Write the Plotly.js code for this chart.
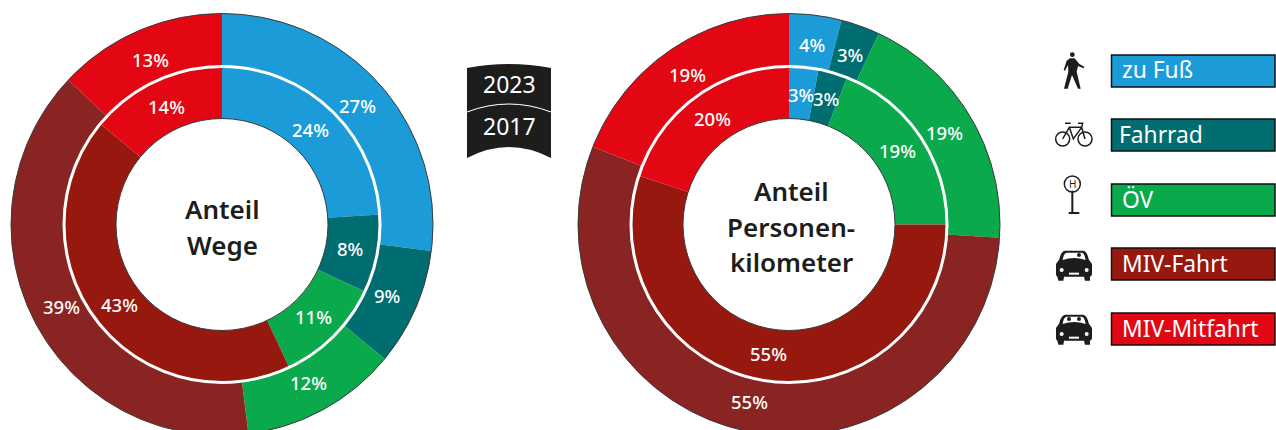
<!DOCTYPE html>
<html><head><meta charset="utf-8">
<script src="https://cdn.plot.ly/plotly-3.0.1.min.js"></script>
<style>html,body{margin:0;padding:0;overflow:hidden;background:#fff}#c{width:1276px;height:440px}</style>
</head><body><div id="c"></div>
<script>
const categories = ["zu Fuß","Fahrrad","ÖV","MIV-Fahrt","MIV-Mitfahrt"];
const wege2023 = [27,9,12,39,13];
const wege2017 = [24,8,11,43,14];
const pkm2023 = [4,3,19,55,19];
const pkm2017 = [3,3,19,55,20];
const colors2017 = ["#1b9cd9","#006d70","#09a94c","#97180f","#e30613"];
const colors2023 = ["#1b9cd9","#006d70","#09a94c","#8a2423","#e30613"];
const years = ["2023","2017"];

const W=1276,H=440,FONT='"Noto Sans",sans-serif';
const RO=211,RM=158,RI=106,CY=224.5;
const LX=222,RX=789;
const px=x=>x/W, py=y=>1-y/H;
function dom(cx,r){return {x:[px(cx-r),px(cx+r)],y:[py(CY+r),py(CY-r)]};}
function ring(vals,cols,cx,r,hole){return {type:'pie',values:vals,labels:categories,sort:false,direction:'clockwise',rotation:0,
  hole:hole,domain:dom(cx,r),marker:{colors:cols,line:{width:0}},textinfo:'none',hoverinfo:'skip',showlegend:false};}
const data=[ring(wege2023,colors2023,LX,RO,RM/RO),ring(wege2017,colors2017,LX,RM,RI/RM),
            ring(pkm2023,colors2023,RX,RO,RM/RO),ring(pkm2017,colors2017,RX,RM,RI/RM)];

const ann=[],shapes=[];
function txt(t,x,y,size,weight,color,anchor){ann.push({text:t,x:px(x),y:py(y),xref:'paper',yref:'paper',showarrow:false,
  xanchor:anchor||'center',yanchor:'middle',font:{family:FONT,size:size,weight:weight||400,color:color||'#fff'}});}
function pct(vals,cx,r){let c=0;vals.forEach(v=>{const a=(c+v/2)/100*2*Math.PI;c+=v;
  txt(v+'%',cx+r*Math.sin(a),CY-r*Math.cos(a),18.5,500);});}
pct(wege2023,LX,180);pct(wege2017,LX,130);pct(pkm2023,RX,181);pct(pkm2017,RX,131);

function circ(cx,cy,r,line,w,fill){shapes.push({type:'circle',xref:'paper',yref:'paper',x0:px(cx-r),x1:px(cx+r),y0:py(cy+r),y1:py(cy-r),
  line:{color:line||'rgba(0,0,0,0)',width:w||0},fillcolor:fill||'rgba(0,0,0,0)',layer:'above'});}
[LX,RX].forEach(cx=>{circ(cx,CY,RO,'#3a3a38',1);circ(cx,CY,RI,'#3a3a38',1);circ(cx,CY,RM,'#fff',3);});

// path given in local units, mapped to page pixels and then to paper fractions
function path(d,ox,oy,s,fill,line,w){
  let i=0;
  const out=d.replace(/-?\d+(\.\d+)?/g,m=>{const v=+m;const r=(i%2===0)?px(ox+v*s):py(oy+v*s);i++;return r.toFixed(6);});
  shapes.push({type:'path',xref:'paper',yref:'paper',path:out,fillcolor:fill||'rgba(0,0,0,0)',line:{color:line||'rgba(0,0,0,0)',width:w||0},layer:'above'});
}

// year badge
const K='#1d1d1b';
path('M467 68 Q509 60 551 68 L551 112 Q509 96 467 112 Z',0,0,1,K);
path('M467 112 Q509 96 551 112 L551 158 Q509 136 467 158 Z',0,0,1,K);
path('M467 112 Q509 96 551 112',0,0,1,null,'#fff',1);
txt(years[0],509,84.5,23);txt(years[1],509,126.5,23);

// centre captions
txt('Anteil',LX,208.5,26,600,K);txt('Wege',LX,244.5,26,600,K);
txt('Anteil',791,190.5,26,600,K);txt('Personen-',791,226.5,26,600,K);txt('kilometer',791,261.5,26,600,K);

// legend
const rowTop=[55,119,184,248,313];
categories.forEach((c,i)=>{
  shapes.push({type:'rect',xref:'paper',yref:'paper',x0:px(1111.5),x1:px(1275),y0:py(rowTop[i]+32),y1:py(rowTop[i]),
    fillcolor:colors2017[i],line:{color:'#111',width:1.5},layer:'above'});
  txt(c,i===1?1117:1119.5,rowTop[i]+15,22.8,400,'#fff','left');
});

// icons (zoom-crop coordinates, 1/3 scale)
const s=1/3;
circ(1040+97*s,40+44*s,2.4,null,0,K);
path('M90 55 L104 55 L118 72 L133 80 L131 85 L114 78 L110 95 L122 146 L114 146 L96 105 L83 146 L72 146 L85 95 L84 75 L75 92 L71 90 L80 62 Z',1040,40,s,K);
circ(1040+68*s,40+297*s,7,K,1.5);circ(1040+135*s,40+297*s,7,K,1.5);
path('M68 297 L88 262 L125 262 L135 297 M88 262 L100 297 L125 262 M75 250 L92 250 M114 250 L128 250 L125 262',1040,40,s,null,K,1.5);
circ(1040+97*s,40+432*s,8,K,1.5);
path('M97 452 L97 518 M86 519 L118 519',1040,40,s,null,K,2);
txt('H',1040+97*s,40+432*s,10,400,K);
const car='M75 92 L130 92 Q142 95 146 118 L156 132 L156 165 L150 170 L150 182 L135 182 L132 170 L72 170 L70 182 L55 182 L52 170 L48 165 L48 132 L58 118 Q62 95 75 92 Z';
const shield='M68 120 Q70 100 80 98 L126 98 Q134 100 137 120 Q102 108 68 120 Z';
[0,192].forEach((dy,k)=>{
  const oy=220+dy*s;
  path(car,1040,oy,s,K);
  path(shield,1040,oy,s,'#fff');
  circ(1040+65*s,oy+150*s,2,null,0,'#fff');circ(1040+140*s,oy+150*s,2,null,0,'#fff');
  path('M87 158 L117 158 L117 164 L87 164 Z',1040,oy,s,'#fff');
  (k?[87,117]:[117]).forEach(x=>circ(1040+x*s,oy+105*s,2,null,0,K));
});

Plotly.newPlot('c',data,{width:W,height:H,margin:{l:0,r:0,t:0,b:0,pad:0},paper_bgcolor:'#fff',plot_bgcolor:'#fff',
  font:{family:FONT},annotations:ann,shapes:shapes,showlegend:false},{displayModeBar:false,staticPlot:true});
</script></body></html>
